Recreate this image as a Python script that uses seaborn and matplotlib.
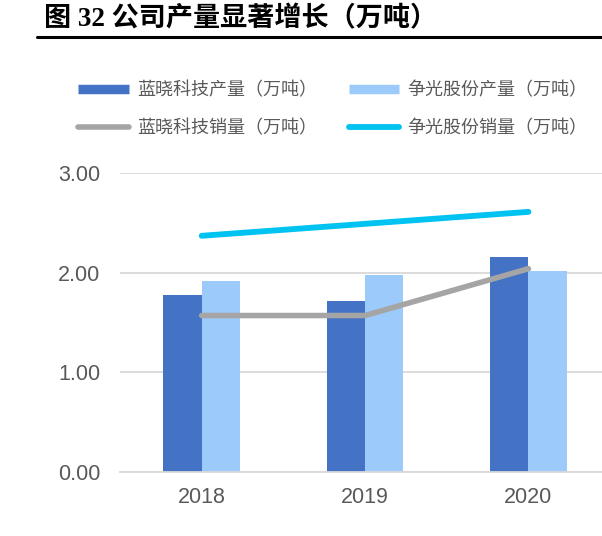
import matplotlib
matplotlib.use("Agg")
import matplotlib.pyplot as plt
import seaborn as sns
import pandas as pd
from matplotlib.lines import Line2D

# ---- data ----
years = ["2018", "2019", "2020"]
lanxiao_prod = [1.78, 1.72, 2.16]
zhengguang_prod = [1.92, 1.98, 2.02]
lanxiao_sales = [1.57, 1.57, 2.04]
zhengguang_sales = [2.37, 2.49, 2.61]
series_names = ["蓝晓科技产量（万吨）", "争光股份产量（万吨）",
                "蓝晓科技销量（万吨）", "争光股份销量（万吨）"]
y_ticks = [0.0, 1.0, 2.0, 3.0]
title_text = "图 32 公司产量显著增长（万吨）"

sns.set_theme(style="white")
plt.rcParams["font.family"] = ["Liberation Sans", "Noto Sans CJK SC", "DejaVu Sans"]

C_DARK = "#4472C4"
C_LIGHT = "#9CCAFA"
C_GREY = "#A5A5A5"
C_CYAN = "#00C3F2"
TXT = "#595959"

bars = pd.DataFrame({
    "year": years * 2,
    "value": lanxiao_prod + zhengguang_prod,
    "series": [series_names[0]] * 3 + [series_names[1]] * 3,
})
lines = pd.DataFrame({
    "year": years * 2,
    "value": lanxiao_sales + zhengguang_sales,
    "series": [series_names[2]] * 3 + [series_names[3]] * 3,
})

fig = plt.figure(figsize=(6.02, 5.36), dpi=100)
ax = fig.add_axes([120 / 602, 64 / 536, 1 - 120 / 602, 299 / 536])

sns.barplot(data=bars, x="year", y="value", hue="series", order=years,
            hue_order=series_names[:2], palette=[C_DARK, C_LIGHT],
            width=0.47, saturation=1, legend=False, ax=ax, zorder=2,
            errorbar=None, linewidth=0, edgecolor="none")

sns.pointplot(data=lines[lines.series == series_names[2]], x="year", y="value",
              order=years, color=C_GREY, markers="", linestyles="-",
              errorbar=None, ax=ax, linewidth=4.0, solid_capstyle="round",
              zorder=3)
sns.pointplot(data=lines[lines.series == series_names[3]], x="year", y="value",
              order=years, color=C_CYAN, markers="", linestyles="-",
              errorbar=None, ax=ax, linewidth=4.2, solid_capstyle="round",
              zorder=3)

ax.set_xlim(-0.50, 2.45)
ax.set_ylim(0, 3.0)
ax.set_yticks(y_ticks)
ax.set_yticklabels([f"{v:.2f}" for v in y_ticks])
ax.set_xlabel("")
ax.set_ylabel("")
ax.grid(axis="y", color="#D9D9D9", linewidth=1.3)
ax.grid(axis="x", visible=False)
ax.set_axisbelow(True)
for s in ["top", "right", "left"]:
    ax.spines[s].set_visible(False)
ax.spines["bottom"].set_color("#D9D9D9")
ax.spines["bottom"].set_linewidth(1.3)
ax.tick_params(axis="y", length=0, pad=14, labelsize=15.5, labelcolor=TXT)
ax.tick_params(axis="x", length=0, pad=11, labelsize=15.5, labelcolor=TXT)

handles = [
    Line2D([], [], color=C_DARK, lw=6.8, solid_capstyle="butt"),
    Line2D([], [], color=C_GREY, lw=4.0, solid_capstyle="round"),
    Line2D([], [], color=C_LIGHT, lw=6.8, solid_capstyle="butt"),
    Line2D([], [], color=C_CYAN, lw=4.2, solid_capstyle="round"),
]
labels = [series_names[0], series_names[2], series_names[1], series_names[3]]
leg = fig.legend(handles, labels, ncol=2, loc="center",
                 bbox_to_anchor=(333 / 602, 1 - 109 / 536), frameon=False,
                 handlelength=2.78, handletextpad=0.45,
                 columnspacing=1.8, labelspacing=1.1, borderpad=0,
                 prop={"family": ["Noto Sans CJK SC"], "size": 13})
for t in leg.get_texts():
    t.set_color(TXT)

fig.text(44 / 602, 1 - 19 / 536, title_text, ha="left", va="center",
         fontsize=19.5, fontweight="bold", color="black",
         family=["Liberation Serif", "Noto Sans CJK SC"])
fig.add_artist(Line2D([37 / 602, 1.0], [1 - 37 / 536, 1 - 37 / 536],
                      color="black", lw=2.2, transform=fig.transFigure))

fig.savefig("out.png", dpi=100)
